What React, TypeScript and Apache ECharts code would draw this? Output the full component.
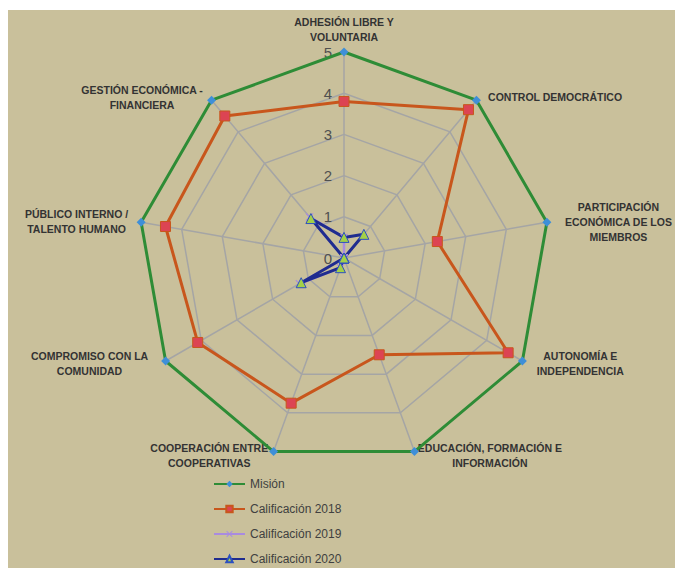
import React, { useEffect, useRef } from 'react';
import * as echarts from 'echarts';

// ---- data (clockwise from the top, as in the reference) ----
const indicatorNames = [
  'ADHESIÓN LIBRE Y\nVOLUNTARIA',
  'CONTROL DEMOCRÁTICO',
  'PARTICIPACIÓN\nECONÓMICA DE LOS\nMIEMBROS',
  'AUTONOMÍA E\nINDEPENDENCIA',
  'EDUCACIÓN, FORMACIÓN E\nINFORMACIÓN',
  'COOPERACIÓN ENTRE\nCOOPERATIVAS',
  'COMPROMISO CON LA\nCOMUNIDAD',
  'PÚBLICO INTERNO /\nTALENTO HUMANO',
  'GESTIÓN ECONÓMICA -\nFINANCIERA',
];
const axisMin = 0;
const axisMax = 5;
const seriesNames = ['Misión', 'Calificación 2018', 'Calificación 2019', 'Calificación 2020'];
const mision = [5, 5, 5, 5, 5, 5, 5, 5, 5];
const cal2018 = [3.8, 4.7, 2.3, 4.6, 2.5, 3.75, 4.1, 4.4, 4.5];
const cal2019 = [0.5, 0, 0, 0, 0, 0.25, 1.25, 0, 1.3];
const cal2020 = [0.5, 0.75, 0, 0, 0, 0.25, 1.2, 0, 1.25];

// ---- layout / style ----
// ECharts lays radar indicators out counter-clockwise; this order makes them run clockwise.
const radarOrder = [0, 8, 7, 6, 5, 4, 3, 2, 1];
const namePadding = [
  [0, 0, 0, 0],
  [0, 0, 0, 9],
  [0, 0, 0, 14],
  [0, 0, 0, 11],
  [0, 0, 0, 2],
  [0, 4, 0, 0],
  [0, 14, 0, 0],
  [0, 9, 0, 0],
  [0, 6, 0, 0],
];
const FONT = '"Liberation Sans", Arial, sans-serif';
const xPath = 'path://M1,0 L5,4 L9,0 L10,1 L6,5 L10,9 L9,10 L5,6 L1,10 L0,9 L4,5 L0,1 Z';
const styles = [
  { symbol: 'diamond', size: 9, legendSize: 7, line: '#2E8C36', width: 3, fill: '#3F8FD8', border: '#3F8FD8', bw: 0 },
  { symbol: 'rect', size: 10, legendSize: 7, line: '#C8561C', width: 3, fill: '#DC4453', border: '#C8561C', bw: 1 },
  { symbol: xPath, size: 8, legendSize: 7, line: '#A98BE0', width: 2.5, fill: '#A98BE0', border: '#A98BE0', bw: 0 },
  { symbol: 'triangle', size: 10, legendSize: 8, line: '#1F2C8F', width: 3, fill: '#A3D048', border: '#2C50C0', bw: 1 },
];
const values = [mision, cal2018, cal2019, cal2020];

export default function App() {
  const ref = useRef<HTMLDivElement>(null);
  useEffect(() => {
    const chart = echarts.init(ref.current!, null, { renderer: 'svg' });
    const indicator = radarOrder.map((i) => {
      const ind: any = {
        name: indicatorNames[i],
        min: axisMin,
        max: axisMax,
        nameGap: 4,
        nameTextStyle: { padding: namePadding[i] },
      };
      if (i === 0) {
        ind.axisLabel = {
          show: true,
          fontSize: 15,
          color: '#505050',
          fontFamily: FONT,
          margin: 12,
        };
      }
      return ind;
    });
    const option: any = {
      animation: false,
      backgroundColor: '#C9C09B',
      grid: { show: false, left: 0, top: 0, width: 10, height: 10 },
      xAxis: { type: 'category', show: false },
      yAxis: { type: 'value', show: false },
      legend: {
        orient: 'vertical',
        left: 205,
        top: 468,
        padding: 0,
        itemWidth: 31,
        itemHeight: 8,
        itemGap: 13,
        data: seriesNames,
        textStyle: { fontSize: 12, color: '#404040', fontFamily: FONT },
      },
      radar: {
        center: [336, 248],
        radius: 206,
        startAngle: 90,
        shape: 'polygon',
        splitNumber: 5,
        axisNameGap: 4,
        indicator,
        axisName: {
          show: true,
          color: '#333333',
          fontSize: 10.5,
          fontWeight: 'bold',
          fontFamily: FONT,
          lineHeight: 15,
          formatter: (n: string) =>
            n
              .split('\n')
              .map((l) => `{c|${l}}`)
              .join('\n'),
          rich: {
            c: {
              align: 'center',
              fontSize: 10.5,
              fontWeight: 'bold',
              fontFamily: FONT,
              color: '#333333',
              lineHeight: 15,
            },
          },
        },
        axisLine: { lineStyle: { color: '#A5A5A5', width: 1.5 } },
        splitLine: { lineStyle: { color: '#A5A5A5', width: 1.5 } },
        splitArea: { show: false },
        axisTick: { show: false },
        axisLabel: { show: false },
      },
      series: [
        ...seriesNames.map((n, i) => ({
          type: 'line',
          name: n,
          data: [],
          silent: true,
          symbol: styles[i].symbol,
          symbolSize: styles[i].legendSize,
          lineStyle: { color: styles[i].line, width: styles[i].width },
          itemStyle: { color: styles[i].fill, borderColor: styles[i].border, borderWidth: styles[i].bw },
        })),
        {
          type: 'radar',
          data: seriesNames.map((n, i) => ({
            name: n,
            value: radarOrder.map((k) => values[i][k]),
            symbol: styles[i].symbol,
            symbolSize: styles[i].size,
            lineStyle: { color: styles[i].line, width: styles[i].width },
            itemStyle: { color: styles[i].fill, borderColor: styles[i].border, borderWidth: styles[i].bw },
          })),
        },
      ],
    };
    chart.setOption(option);
    return () => chart.dispose();
  }, []);
  return (
    <div
      ref={ref}
      style={{ position: 'absolute', left: 8, top: 10, width: 667, height: 558 }}
    />
  );
}
